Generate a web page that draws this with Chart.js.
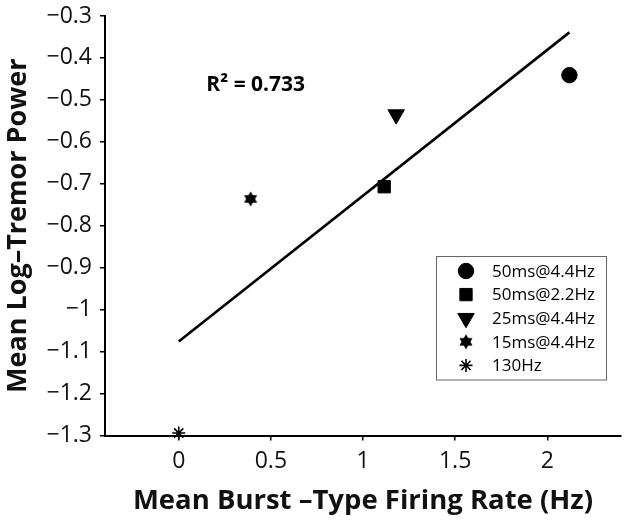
<!DOCTYPE html>
<html>
<head>
<meta charset="utf-8">
<script src="https://cdn.jsdelivr.net/npm/chart.js@4.4.1/dist/chart.umd.min.js"></script>
<style>
  html, body { margin: 0; padding: 0; background: #fff; }
  #wrap { width: 626px; height: 523px; }
</style>
</head>
<body>
<div id="wrap"><canvas id="myChart" width="626" height="523"></canvas></div>
<script>
// du lieu doc tu hinh
var nhom = ['50ms@4.4Hz', '50ms@2.2Hz', '25ms@4.4Hz', '15ms@4.4Hz', '130Hz'];
var tanSo = [2.12, 1.115, 1.18, 0.39, 0];          // Mean Burst-Type Firing Rate (Hz)
var congSuat = [-0.441, -0.707, -0.535, -0.736, -1.294]; // Mean Log-Tremor Power
var duongX = [0, 2.12];        // dau mut duong hoi quy
var duongY = [-1.076, -0.339];
var nhanX = [0, 0.5, 1, 1.5, 2];
var r2Text = 'R\u00B2 = 0.733';

// ngoi sao 6 canh (hexagram)
function taoSao(r) {
    var c = document.createElement('canvas');
    var s = Math.ceil(r * 2 + 2);
    c.width = s; c.height = s;
    var g = c.getContext('2d');
    g.fillStyle = '#000';
    for (var k = 0; k < 2; k++) {
        g.beginPath();
        for (var i = 0; i < 3; i++) {
            var a = -Math.PI / 2 + k * Math.PI + i * 2 * Math.PI / 3;
            var px = s / 2 + r * Math.cos(a), py = s / 2 + r * Math.sin(a);
            if (i == 0) g.moveTo(px, py); else g.lineTo(px, py);
        }
        g.closePath();
        g.fill();
    }
    return c;
}
var sao = taoSao(7.6);

var kieu = [
    { pointStyle: 'circle', radius: 7.7, rotation: 0 },
    { pointStyle: 'rect', radius: 8.7, rotation: 0 },
    { pointStyle: 'triangle', radius: 9.5, rotation: 180 },
    { pointStyle: sao, radius: 8, rotation: 0 },
    { pointStyle: 'star', radius: 6.5, rotation: 0 }
];

var FONT = '"Open Sans", "DejaVu Sans", sans-serif';

var datasets = nhom.map(function (ten, i) {
    return {
        type: 'scatter',
        label: ten,
        data: [{ x: tanSo[i], y: congSuat[i] }],
        backgroundColor: '#000',
        borderColor: '#000',
        borderWidth: kieu[i].pointStyle === 'star' ? 1.6 : 1,
        pointStyle: kieu[i].pointStyle,
        pointRadius: kieu[i].radius,
        pointRotation: kieu[i].rotation,
        clip: false
    };
});
datasets.unshift({
    type: 'line',
    label: 'fit',
    data: duongX.map(function (x, i) { return { x: x, y: duongY[i] }; }),
    borderColor: '#000',
    borderWidth: 2.6,
    pointRadius: 0,
    fill: false,
    clip: false
});

// chu thich ve tay trong vung do thi
var chuThich = {
    id: 'chuThich',
    afterDraw: function (chart) {
        var ctx = chart.ctx, a = chart.chartArea;
        var bx = a.right - 185, by = 256, bw = 170, bh = 123.5;
        ctx.save();
        ctx.fillStyle = '#fff';
        ctx.fillRect(bx, by, bw, bh);
        ctx.strokeStyle = '#666';
        ctx.lineWidth = 1;
        ctx.strokeRect(bx + 0.5, by + 0.5, bw, bh);
        ctx.font = '17px ' + FONT;
        ctx.textBaseline = 'middle';
        for (var i = 0; i < nhom.length; i++) {
            var y = by + 15 + i * 23.6;
            ctx.fillStyle = '#000';
            ctx.strokeStyle = '#000';
            ctx.lineWidth = kieu[i].pointStyle === 'star' ? 1.6 : 1;
            Chart.helpers.drawPoint(ctx, {
                pointStyle: kieu[i].pointStyle,
                radius: kieu[i].radius,
                rotation: kieu[i].rotation,
                borderWidth: ctx.lineWidth
            }, bx + 30, y);
            ctx.fillStyle = '#000';
            ctx.textAlign = 'left';
            ctx.fillText(nhom[i], bx + 56, y + 1);
        }
        // R^2
        var xs = chart.scales.x, ys = chart.scales.y;
        ctx.font = 'bold 21px ' + FONT;
        ctx.textAlign = 'left';
        ctx.fillText(r2Text, xs.getPixelForValue(0.15), ys.getPixelForValue(-0.465));
        ctx.restore();
    }
};

function dinhDang(v) {
    return Number(v.toFixed(1)).toString().replace('-', '\u2212');
}

var bieudo = new Chart('myChart', {
    data: { datasets: datasets },
    options: {
        responsive: false,
        animation: false,
        layout: { autoPadding: false, padding: { top: 16, right: 5, left: 0, bottom: 0 } },
        plugins: { legend: { display: false }, tooltip: { enabled: false } },
        scales: {
            x: {
                type: 'linear',
                min: -0.4,
                max: 2.4,
                afterBuildTicks: function (scale) {
                    scale.ticks = nhanX.map(function (v) { return { value: v }; });
                },
                afterFit: function (scale) {
                    scale.height = 87.5;
                    scale.paddingLeft = 0;
                    scale.paddingRight = 0;
                },
                border: { color: '#000', width: 2 },
                grid: { drawOnChartArea: false, color: '#000', lineWidth: 1.5, tickLength: 5 },
                ticks: {
                    color: '#111',
                    font: { family: FONT, size: 23 },
                    padding: 7,
                    maxRotation: 0,
                    callback: function (v) { return dinhDang(v); }
                },
                title: {
                    display: true,
                    text: 'Mean Burst \u2013Type Firing Rate (Hz)',
                    color: '#111',
                    font: { family: FONT, size: 27.5, weight: 'bold' },
                    padding: { top: 0, bottom: 5 }
                }
            },
            y: {
                type: 'linear',
                min: -1.3,
                max: -0.3,
                ticks: {
                    stepSize: 0.1,
                    color: '#111',
                    font: { family: FONT, size: 23 },
                    padding: 8,
                    callback: function (v) { return dinhDang(v); }
                },
                afterFit: function (scale) {
                    scale.width = 105;
                    scale.paddingTop = 0;
                    scale.paddingBottom = 0;
                },
                border: { color: '#000', width: 2 },
                grid: { drawOnChartArea: false, color: '#000', lineWidth: 1.5, tickLength: 5 },
                title: {
                    display: true,
                    text: 'Mean Log\u2013Tremor Power',
                    color: '#111',
                    font: { family: FONT, size: 27, weight: 'bold' },
                    padding: { top: 2, bottom: 0 }
                }
            }
        }
    },
    plugins: [chuThich]
});
</script>
</body>
</html>
